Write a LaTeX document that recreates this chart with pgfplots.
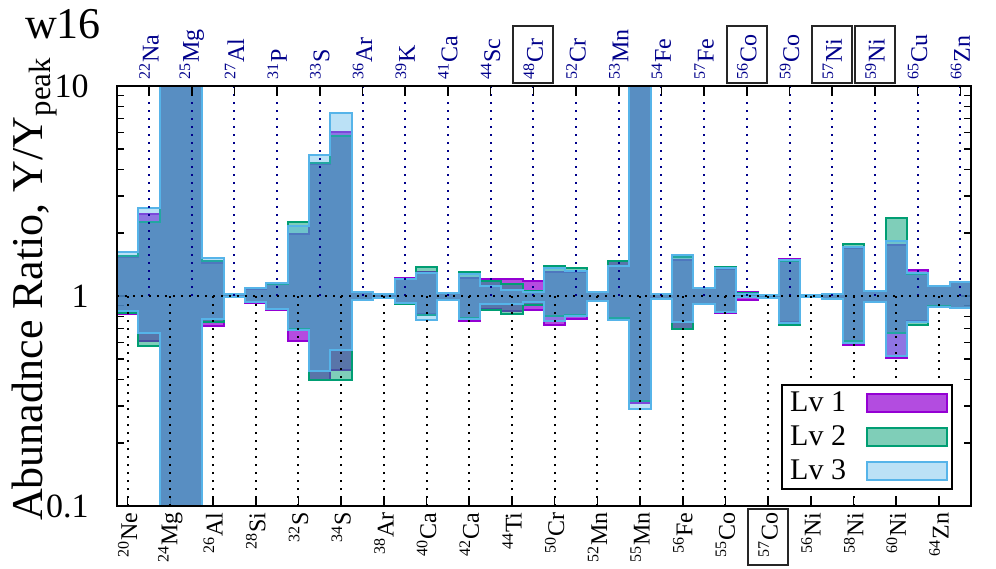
\documentclass[border=0pt]{standalone}
\usepackage{fontspec}
\setmainfont{Liberation Serif}
\usepackage{pgfplots}
\pgfplotsset{compat=1.18}
\usepackage{pgfplotstable}
\usepgfplotslibrary{fillbetween}

\definecolor{lvone}{RGB}{148,0,211}
\definecolor{lvtwo}{RGB}{0,158,115}
\definecolor{lvthree}{RGB}{86,180,233}
\definecolor{navy}{RGB}{0,0,139}

\newcommand{\xfont}{\fontsize{12}{14}\selectfont}
\newcommand{\yfont}{\fontsize{17}{20}\selectfont}
\newcommand{\legfont}{\fontsize{15}{18}\selectfont}
\newcommand{\bigfont}{\fontsize{22}{26}\selectfont}

\pgfplotsset{
  bar legend/.style={legend image code/.code={\draw[##1] (0pt,-4.5pt) rectangle (40pt,4.5pt);}},
}
\tikzset{
  guide/.style={line width=1pt, dash pattern=on 1pt off 3pt},
  frame/.style={black!85, line width=1pt},
}

% x = left edge of each isotope's step; u/l = upper and lower ratio per level
\pgfplotstableread{
x     u1     l1     u2     l2     u3     l3
-0.5  1.53   0.82   1.55   0.83   1.62   0.85
0.5   2.46   0.61   2.24   0.58   2.63   0.665
1.5   30     0.03   30     0.03   30     0.03
2.5   30     0.03   30     0.03   30     0.03
3.5   1.44   0.72   1.47   0.75   1.52   0.78
4.5   1.02   0.99   1.02   0.99   1.02   0.99
5.5   1.08   0.93   1.09   0.94   1.09   0.94
6.5   1.14   0.86   1.14   0.87   1.15   0.87
7.5   1.97   0.61   2.25   0.70   2.16   0.69
8.5   4.25   0.40   4.30   0.40   4.70   0.44
9.5   6.02   0.444  5.80   0.398  7.40   0.555
10.5  1.05   0.96   1.05   0.96   1.05   0.96
11.5  1.02   0.975  1.02   0.975  1.02   0.975
12.5  1.22   0.92   1.21   0.92   1.20   0.93
13.5  1.30   0.82   1.37   0.81   1.28   0.77
14.5  1.03   0.96   1.03   0.96   1.03   0.96
15.5  1.22   0.76   1.30   0.79   1.27   0.78
16.5  1.20   0.87   1.175  0.86   1.12   0.92
17.5  1.21   0.85   1.14   0.82   1.07   0.92
18.5  1.175  0.86   1.06   0.91   1.04   0.935
19.5  1.30   0.73   1.39   0.805  1.36   0.76
20.5  1.30   0.78   1.36   0.815  1.32   0.80
21.5  1.05   0.95   1.05   0.95   1.05   0.95
22.5  1.47   0.79   1.47   0.79   1.39   0.77
23.5  30     0.31   30     0.315  30     0.29
24.5  1.02   0.97   1.02   0.97   1.02   0.97
25.5  1.49   0.70   1.53   0.70   1.57   0.75
26.5  1.09   0.915  1.09   0.915  1.09   0.915
27.5  1.34   0.83   1.38   0.835  1.36   0.84
28.5  1.04   0.96   1.03   0.99   1.02   0.99
29.5  1.015  0.975  1.015  0.975  1.015  0.975
30.5  1.50   0.75   1.47   0.73   1.48   0.74
31.5  1.01   0.985  1.01   0.985  1.01   0.985
32.5  1.02   0.97   1.02   0.97   1.02   0.97
33.5  1.69   0.585  1.77   0.61   1.72   0.60
34.5  1.06   0.94   1.06   0.94   1.06   0.94
35.5  1.74   0.505  2.35   0.665  1.83   0.52
36.5  1.33   0.76   1.27   0.73   1.29   0.75
37.5  1.12   0.90   1.12   0.90   1.12   0.89
38.5  1.17   0.875  1.17   0.875  1.17   0.875
39.5  1.17   0.875  1.17   0.875  1.17   0.875
}\ratios

\begin{document}
\begin{tikzpicture}
\begin{axis}[
  name=main,
  width=427pt, height=210pt, scale only axis,
  xmin=-0.5, xmax=39.5,
  ymode=log, ymin=0.1, ymax=10,
  ytick={0.1,1,10}, yticklabels={0.1,1,10},
  minor ytick={0.2,0.3,0.4,0.5,0.6,0.7,0.8,0.9,2,3,4,5,6,7,8,9},
  axis line style={line width=1pt},
  every tick/.style={black, line width=0.8pt},
  major tick length=5pt, minor tick length=3.5pt,
  xtick={0,2,...,38}, xticklabels={},
  xtick pos=bottom,
  yticklabel style={anchor=east, inner sep=0pt, xshift=-14pt, font=\yfont},
  legend plot pos=right,
  legend cell align=left,
  legend style={at={(0.979,0.038)}, anchor=south east, draw=black, line width=1pt,
    font=\legfont, inner xsep=2pt, inner ysep=1.5pt, row sep=1.5pt,
    /tikz/every odd column/.append style={column sep=8pt}},
]
% guide lines
\pgfplotsinvokeforeach{1,3,...,39}{
  \draw[navy, guide] (axis cs:#1,1) -- (axis cs:#1,10);
}
\pgfplotsinvokeforeach{0,2,...,38}{
  \draw[black, guide] (axis cs:#1,0.1) -- (axis cs:#1,1);
}

\addlegendimage{bar legend, fill=lvone, fill opacity=0.7, draw=lvone, line width=1pt}
\addlegendentry{Lv 1}
\addlegendimage{bar legend, fill=lvtwo, fill opacity=0.5, draw=lvtwo, line width=1pt}
\addlegendentry{Lv 2}
\addlegendimage{bar legend, fill=lvthree, fill opacity=0.4, draw=lvthree, line width=1pt}
\addlegendentry{Lv 3}

\addplot[draw=none, const plot mark left, name path=u1, forget plot] table[x=x, y=u1] {\ratios};
\addplot[draw=none, const plot mark left, name path=l1, forget plot] table[x=x, y=l1] {\ratios};
\addplot[draw=none, const plot mark left, name path=u2, forget plot] table[x=x, y=u2] {\ratios};
\addplot[draw=none, const plot mark left, name path=l2, forget plot] table[x=x, y=l2] {\ratios};
\addplot[draw=none, const plot mark left, name path=u3, forget plot] table[x=x, y=u3] {\ratios};
\addplot[draw=none, const plot mark left, name path=l3, forget plot] table[x=x, y=l3] {\ratios};

\addplot[fill=lvone, fill opacity=0.7, draw=lvone, line width=1pt, forget plot]
  fill between[of=u1 and l1];
\addplot[fill=lvtwo, fill opacity=0.5, draw=lvtwo, line width=1pt, forget plot]
  fill between[of=u2 and l2];
\addplot[fill=lvthree, fill opacity=0.4, draw=lvthree, line width=1pt, forget plot]
  fill between[of=u3 and l3];

\draw[black, guide] (axis cs:-0.5,1) -- (axis cs:39.5,1);
\end{axis}

\begin{axis}[
  width=427pt, height=210pt, scale only axis,
  xmin=-0.5, xmax=39.5,
  ymode=log, ymin=0.1, ymax=10,
  ytick=\empty, minor ytick={},
  clip=false,
  axis line style={line width=1pt},
  every tick/.style={black, line width=0.8pt},
  major tick length=5pt,
  xtick={1,3,...,39}, xticklabels={},
  xtick pos=top,
]
% frames round the highlighted isotopes
\draw[frame] ([xshift=-10pt, yshift=1.5pt]axis cs:19,10) rectangle ([xshift=10pt, yshift=30pt]axis cs:19,10);
\draw[frame] ([xshift=-10pt, yshift=1.5pt]axis cs:29,10) rectangle ([xshift=10pt, yshift=30pt]axis cs:29,10);
\draw[frame] ([xshift=-10pt, yshift=1.5pt]axis cs:33,10) rectangle ([xshift=10pt, yshift=30pt]axis cs:33,10);
\draw[frame] ([xshift=-10pt, yshift=1.5pt]axis cs:35,10) rectangle ([xshift=10pt, yshift=30pt]axis cs:35,10);
\draw[frame] ([xshift=-10pt, yshift=-1.5pt]axis cs:30,0.1) rectangle ([xshift=10pt, yshift=-29.5pt]axis cs:30,0.1);
\end{axis}

% isotope names below and above the frame
\foreach \i/\m/\e in {0/20/Ne,2/24/Mg,4/26/Al,6/28/Si,8/32/S,10/34/S,12/38/Ar,14/40/Ca,
    16/42/Ca,18/44/Ti,20/50/Cr,22/52/Mn,24/55/Mn,26/56/Fe,28/55/Co,30/57/Co,
    32/56/Ni,34/58/Ni,36/60/Ni,38/64/Zn}{
  \node[rotate=90, anchor=east, inner sep=0pt, font=\xfont]
    at ([xshift={(\i+0.5)*10.675pt}, yshift=-3pt]main.south west) {\textsuperscript{\m}\e};
}
\foreach \i/\m/\e in {1/22/Na,3/25/Mg,5/27/Al,7/31/P,9/33/S,11/36/Ar,13/39/K,15/41/Ca,
    17/44/Sc,19/48/Cr,21/52/Cr,23/53/Mn,25/54/Fe,27/57/Fe,29/56/Co,31/59/Co,
    33/57/Ni,35/59/Ni,37/65/Cu,39/66/Zn}{
  \node[rotate=90, anchor=west, inner sep=0pt, font=\xfont, text=navy]
    at ([xshift={(\i+0.5)*10.675pt}, yshift=3pt]main.north west) {\textsuperscript{\m}\e};
}

\node[anchor=base west, font=\bigfont] at ([xshift=-49.5pt, yshift=23.5pt]main.north west) {w16};
\node[rotate=90, anchor=base, font=\bigfont] at ([xshift=-37pt, yshift=108.5pt]main.south west)
  {Abunadnce Ratio, Y/Y\textsubscript{peak}};

\pgfresetboundingbox
\path ([xshift=-58.5pt, yshift=-31pt]main.south west) rectangle ([xshift=12.5pt, yshift=43pt]main.north east);
\end{tikzpicture}
\end{document}
